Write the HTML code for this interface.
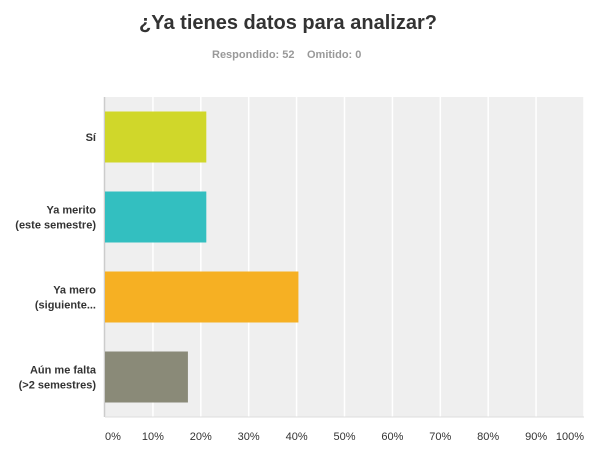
<!DOCTYPE html>
<html><head><meta charset="utf-8"><style>
body{margin:0;background:#fff;width:596px;height:451px;overflow:hidden;font-family:"Liberation Sans",Arial,sans-serif}
</style></head><body>
<svg id="c" width="596" height="451">
<text x="288" y="29" text-anchor="middle" font-size="20" font-weight="bold" fill="#333">¿Ya tienes datos para analizar?</text>
<text x="212" y="58" font-size="11" font-weight="bold" fill="#999">Respondido: 52</text>
<text x="307" y="58" font-size="11" font-weight="bold" fill="#999">Omitido: 0</text>
<g id="g"></g>
</svg>
<script>
const categories=[["Sí"],["Ya merito","(este semestre)"],["Ya mero","(siguiente..."],["Aún me falta","(>2 semestres)"]];
const values=[21.15,21.15,40.38,17.31];
const colors=["#d0d72a","#33bfc0","#f6b023","#8a8a78"];
const ticks=[0,10,20,30,40,50,60,70,80,90,100];
const X0=105,X1=584,Y0=97,Y1=417;
const xs=v=>X0+(X1-X0)*v/100;
const band=(Y1-Y0)/categories.length;
const g=document.getElementById('g');
const ns='http://www.w3.org/2000/svg';
function mk(t,a){const e=document.createElementNS(ns,t);for(const k in a)e.setAttribute(k,a[k]);g.appendChild(e);return e;}
const bg=mk('rect',{x:X0,y:Y0,width:X1-X0,height:Y1-Y0,fill:'#efefef'});


ticks.forEach((t,i)=>{
 if(t>0){const l=mk('line',{x1:xs(t),x2:xs(t),y1:Y0,y2:Y1,stroke:'#fff','stroke-width':1.5});
 
 }
 const tx=mk('text',{x:xs(t)+(t==100?-14:(t==0?8:0)),y:440,'text-anchor':'middle','font-size':11,fill:'#333'});
 tx.textContent=t+'%';
 
 
});
const ax=mk('line',{x1:X0-0.5,x2:X0-0.5,y1:Y0,y2:Y1,stroke:'#ccc','stroke-width':1.5});


const bx=mk('line',{x1:X0,x2:X1,y1:Y1,y2:Y1,stroke:'#ddd','stroke-width':1});


categories.forEach((c,i)=>{
 const yc=Y0+band*(i+0.5);
 const r=mk('rect',{x:X0,y:yc-25.5,width:xs(values[i])-X0,height:51,fill:colors[i]});
 
 
 c.forEach((s,j)=>{
  const t=mk('text',{x:96,y:yc+4+(j-(c.length-1)/2)*15,'text-anchor':'end','font-size':11,'font-weight':'bold',fill:'#333'});
  t.textContent=s;
  
  
 });
});
</script>
</body></html>
